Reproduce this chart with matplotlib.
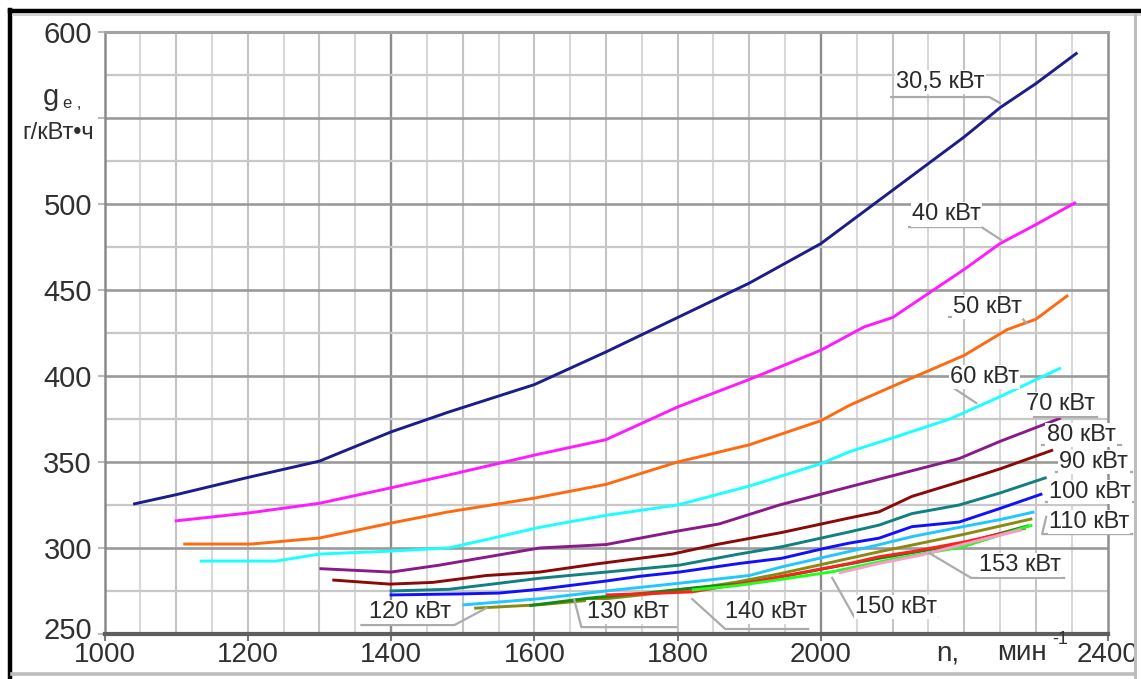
import matplotlib
matplotlib.use("Agg")
import matplotlib.pyplot as plt
from matplotlib.lines import Line2D
import matplotlib.transforms as mtransforms
import numpy as np

plt.rcParams['font.family'] = ['Liberation Sans', 'DejaVu Sans']

# ---------------- data ----------------
rpm_30_5 = [1040, 1100, 1200, 1300, 1400, 1480, 1600, 1700, 1800, 1900, 2000, 2100, 2200, 2250, 2300, 2358]
ge_30_5 = [325.5, 331, 341, 350.5, 367.5, 379, 395, 414, 434, 454, 477, 508, 539, 556, 570, 588]

rpm_40 = [1098, 1200, 1300, 1400, 1480, 1600, 1700, 1800, 1900, 2000, 2060, 2100, 2200, 2250, 2300, 2356]
ge_40 = [315.7, 320.3, 326, 335, 342.4, 354, 363, 382, 398, 415, 428.5, 434, 462, 477, 488, 501]

rpm_50 = [1110, 1205, 1300, 1400, 1480, 1600, 1700, 1800, 1900, 2000, 2040, 2100, 2200, 2260, 2300, 2345]
ge_50 = [302.3, 302.3, 305.8, 314.5, 321, 329, 337, 350, 360, 374, 383, 394, 412, 427, 433, 447]

rpm_60 = [1133, 1240, 1300, 1400, 1480, 1530, 1607, 1700, 1800, 1900, 2000, 2040, 2100, 2180, 2250, 2335]
ge_60 = [292.4, 292.4, 296.5, 298.2, 300, 304.6, 312, 319, 325, 336, 349, 356, 364, 375, 388, 404.7]

rpm_70 = [1300, 1400, 1467, 1551, 1607, 1700, 1802, 1858, 1942, 2039, 2100, 2193, 2250, 2335]
ge_70 = [288, 286, 290, 296, 300, 302, 310, 314, 325, 335.5, 342, 352, 362, 375.6]

rpm_80 = [1318, 1398, 1458, 1533, 1607, 1686, 1793, 1854, 1945, 2039, 2081, 2127, 2193, 2250, 2324]
ge_80 = [281.4, 279, 280, 284, 286, 290.7, 296.5, 302, 309, 317.4, 321, 330, 338.4, 346, 357]

rpm_90 = [1398, 1481, 1551, 1607, 1700, 1802, 1886, 1945, 2039, 2081, 2127, 2193, 2250, 2315]
ge_90 = [275, 276, 279.5, 282.4, 286, 290, 296.5, 300.7, 309.3, 313.3, 320, 325, 332, 341]

rpm_100 = [1398, 1495, 1551, 1607, 1700, 1746, 1802, 1886, 1945, 2007, 2039, 2081, 2127, 2193, 2250, 2309]
ge_100 = [272.7, 273.3, 273.8, 276, 280.8, 283.5, 286, 291, 294, 300, 302.8, 305.7, 312.4, 315.1, 323, 331.5]

rpm_110 = [1500, 1607, 1700, 1802, 1900, 1945, 2081, 2127, 2193, 2250, 2298]
ge_110 = [266.9, 270.5, 275, 279.5, 284, 289, 301.9, 306.6, 312, 316.5, 321]

rpm_120 = [1516, 1607, 1700, 1800, 1880, 1942, 2081, 2127, 2200, 2295]
ge_120 = [265, 267, 270.5, 275, 280, 285, 297.8, 301.7, 308, 317]

rpm_130 = [1593, 1677, 1760, 1826, 1886, 1942, 2081, 2193, 2290]
ge_130 = [266.5, 270.9, 274, 277, 279, 283, 294, 302, 313]

rpm_140 = [1700, 1760, 1820, 1900, 1990, 2040, 2081, 2127, 2200, 2286]
ge_140 = [272.7, 273.5, 274.5, 280, 287, 291, 294.9, 297.9, 303.5, 311.6]

rpm_150 = [1820, 1880, 1932, 2016, 2100, 2197, 2295]
ge_150 = [275.6, 278, 281, 286.2, 293.5, 300.6, 313.3]

rpm_153 = [2025, 2081, 2141, 2230, 2280]
ge_153 = [285.5, 291, 296, 305.5, 310.5]

series_names = ["30,5 кВт", "40 кВт", "50 кВт", "60 кВт", "70 кВт", "80 кВт", "90 кВт",
                "100 кВт", "110 кВт", "120 кВт", "130 кВт", "140 кВт", "150 кВт", "153 кВт"]

x_ticks = [1000, 1200, 1400, 1600, 1800, 2000, 2200, 2400]
x_tick_labels = ["1000", "1200", "1400", "1600", "1800", "2000", "", "2400"]
y_ticks = [250, 300, 350, 400, 450, 500, 550, 600]
y_tick_labels = ["250", "300", "350", "400", "450", "500", "", "600"]

# ---------------- styling ----------------
series = [
    (rpm_30_5, ge_30_5, "#1c1c8a"),
    (rpm_40, ge_40, "#ff1aff"),
    (rpm_50, ge_50, "#ff6a10"),
    (rpm_60, ge_60, "#1affff"),
    (rpm_70, ge_70, "#8a1a8a"),
    (rpm_80, ge_80, "#8a0a0a"),
    (rpm_90, ge_90, "#108080"),
    (rpm_100, ge_100, "#1010ff"),
    (rpm_110, ge_110, "#20c8ff"),
    (rpm_120, ge_120, "#8a8a10"),
    (rpm_130, ge_130, "#108a10"),
    (rpm_140, ge_140, "#ff2020"),
    (rpm_150, ge_150, "#20ff20"),
    (rpm_153, ge_153, "#ff99cc"),
]

W, H = 1141, 679
fig = plt.figure(figsize=(W / 100, H / 100), dpi=100)
fig.patch.set_facecolor("white")
ax = fig.add_axes([104.5 / W, (H - 634) / H, 1003 / W, 602 / H])
ax.set_xlim(1000, 2400)
ax.set_ylim(250, 600)

# grid
for v in np.arange(1050, 2400, 50):
    if v in (1400, 2000):
        c, lw = "#8c8c8c", 1.7
    elif v % 100 == 0:
        c, lw = "#c4c4c4", 1.5
    else:
        c, lw = "#d8d8d8", 1.5
    ax.axvline(v, color=c, lw=lw, zorder=1)
for h in np.arange(275, 600, 25):
    if h % 50 == 0:
        c, lw = "#9a9a9a", 1.9
    else:
        c, lw = "#c8c8c8", 1.6
    ax.axhline(h, color=c, lw=lw, zorder=1)

for (xs, ys, col) in series:
    ax.plot(xs, ys, color=col, lw=2.1, zorder=3, solid_capstyle="butt")

# spines
ax.spines["left"].set_color("#8a8a8a"); ax.spines["left"].set_linewidth(1.8)
ax.spines["bottom"].set_color("#5e5e5e"); ax.spines["bottom"].set_linewidth(3.0)
ax.spines["top"].set_color("#a2a2a2"); ax.spines["top"].set_linewidth(2.2)
ax.spines["right"].set_color("#909090"); ax.spines["right"].set_linewidth(1.8)

ax.set_xticks(x_ticks)
ax.set_xticklabels(x_tick_labels)
ax.set_yticks(y_ticks)
ax.set_yticklabels(y_tick_labels)
ax.tick_params(axis="x", length=5, width=1.5, color="#777777", pad=1,
               labelsize=20, labelcolor="#303030")
ax.tick_params(axis="y", length=5, width=1.5, color="#bbbbbb", pad=4,
               labelsize=21, labelcolor="#303030")
ax.xaxis.get_major_ticks()[6].tick1line.set_visible(False)
# the lowest y label sits a little above its gridline in the reference
ylabs = ax.get_yticklabels()
ylabs[0].set_transform(ylabs[0].get_transform() +
                       mtransforms.ScaledTranslation(0, 6 / 100, fig.dpi_scale_trans))

# curve labels: text, text centre, underline y, underline x0/x1, leader target, order
labels = [
    ("30,5 кВт", (2166.5, 570.9), 562.2, 2098, 2235, (2250, 558.7), "lr"),
    ("40 кВт", (2175, 494.0), 486.6, 2123, 2224, (2251.6, 479.1), "lr"),
    ("50 кВт", (2232, 440.1), 434.3, 2179, 2279.5, (2286.5, 430.8), "lr"),
    ("60 кВт", (2228, 399.4), 393.6, 2183, 2258.6, (2216.7, 384.3), "rl"),
    ("70 кВт", (2334, 383.7), 376.2, 2297.6, 2385.5, None, "lr"),
    ("80 кВт", (2363, 365.7), 359.9, 2308.8, 2419, None, "lr"),
    ("90 кВт", (2381, 350.0), 344.2, 2328.3, 2434.4, None, "lr"),
    ("100 кВт", (2376, 332.6), 326.7, 2314.4, 2437.2, None, "lr"),
    ("110 кВт", (2374, 315.1), 308.1, 2308.8, 2434.4, (2314.4, 318.1), "rl"),
    ("153 кВт", (2278, 290.1), 282.6, 2209.7, 2339.5, (2151.1, 297.1), "rl"),
    ("150 кВт", (2105, 265.7), 259.9, 2046.5, 2162.3, (2015.8, 282.6), "rl"),
    ("140 кВт", (1924, 262.8), 252.9, 1866.5, 1982.3, (1820.4, 270.3), "rl"),
    ("130 кВт", (1731, 262.8), 254.0, 1665.6, 1798.1, (1655.8, 269.8), "rl"),
    ("120 кВт", (1426, 262.8), 255.2, 1358.6, 1488.4, (1533, 265.1), "lr"),
]
for text, (tx, ty), uy, x0, x1, tgt, order in labels:
    if order == "lr":
        px = [x0, x1]
    else:
        px = [x1, x0]
    py = [uy, uy]
    if tgt is not None:
        px.append(tgt[0]); py.append(tgt[1])
    ax.plot(px, py, color="#ababab", lw=1.6, zorder=4, clip_on=False)
    ax.text(tx, ty, text, ha="center", va="center", fontsize=17, color="#2a2a2a",
            zorder=5, clip_on=False,
            bbox=dict(boxstyle="square,pad=0.05", fc="white", ec="none"))

# axis titles
fig.text(51 / W, 1 - 97 / H, "g", fontsize=21, color="#303030", ha="center", va="center")
fig.text(72 / W, 1 - 104 / H, "е ,", fontsize=12, color="#303030", ha="center", va="center")
fig.text(58 / W, 1 - 133 / H, "г/кВт•ч", fontsize=17, color="#303030", ha="center", va="center")

fig.text(936 / W, 1 - 653 / H, "n,", fontsize=20, color="#303030", ha="left", va="center")
fig.text(1047 / W, 1 - 653 / H, "мин", fontsize=20, color="#303030", ha="right", va="center")
fig.text(1052 / W, 1 - 640 / H, "-1", fontsize=13, color="#303030", ha="left", va="center")

# scanned frame
fig.add_artist(Line2D([10 / W, 10 / W], [0.0, 1 - 10 / H], color="black", lw=3.2, transform=fig.transFigure))
fig.add_artist(Line2D([10 / W, 1.0], [1 - 11 / H, 1 - 11 / H], color="black", lw=3.2, transform=fig.transFigure))
fig.add_artist(Line2D([14 / W, 1.0], [1 - 15 / H, 1 - 15 / H], color="#c8c8c8", lw=1.2, transform=fig.transFigure))
fig.add_artist(Line2D([1135 / W, 1135 / W], [0.0, 1 - 14 / H], color="#bdbdbd", lw=2.2, transform=fig.transFigure))
fig.add_artist(Line2D([12 / W, 1135 / W], [1 - 674 / H, 1 - 674 / H], color="#bdbdbd", lw=2.6, transform=fig.transFigure))

fig.savefig("out.png", dpi=100, facecolor="white")
